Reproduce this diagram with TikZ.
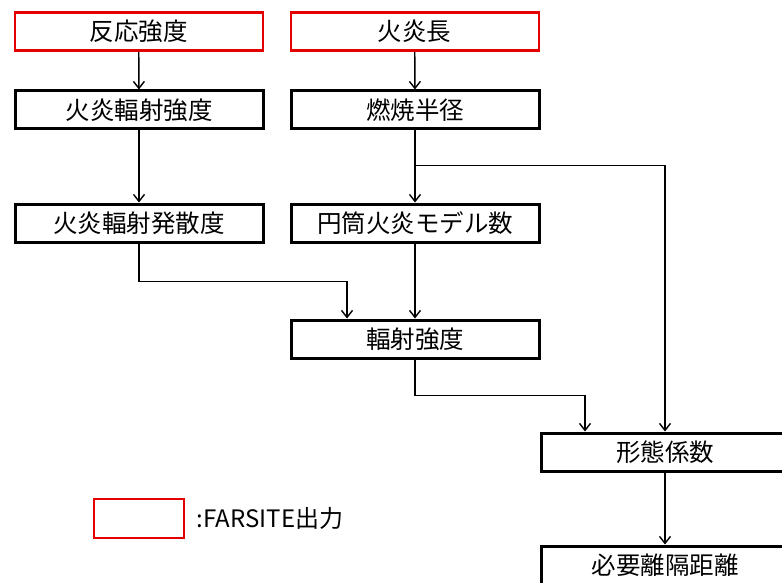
\documentclass[tikz,border=0pt]{standalone}
\usepackage{fontspec}
\setmainfont{Noto Sans CJK JP}
\usetikzlibrary{arrows.meta}

\begin{document}
\begin{tikzpicture}[x=1pt, y=-1pt,
  every node/.style={draw, line width=3pt, minimum width=248pt, minimum height=38pt, anchor=north west, inner sep=0pt, font=\fontsize{24.5}{27}\selectfont},
  farsite/.style={draw=red!90!black, line width=2.4pt},
  flow/.style={line width=1.4pt, -{Straight Barb[length=7pt, width=11pt]}}]

\useasboundingbox (0,0) rectangle (782,583);

% Inputs from FARSITE
\node[farsite] (react) at (13.5,11.5) {反応強度};
\node[farsite] (flen) at (289.5,11.5) {火炎長};

% Second row
\node (fri) at (13.5,89.5) {火炎輻射強度};
\node (brad) at (289.5,89.5) {燃焼半径};

% Third row
\node (fre) at (13.5,202.5) {火炎輻射発散度};
\node (cyl) at (289.5,202.5) {円筒火炎モデル数};

% Lower chain
\node (rad) at (289.5,318.5) {輻射強度};
\node (view) at (539.5,431.5) {形態係数};
\node (dist) at (539.5,544.5) {必要離隔距離};

% Legend
\node[farsite, minimum width=90pt, minimum height=39pt] (legend) at (93,498) {};
\node[draw=none, minimum width=0pt, anchor=west, font=\fontsize{24}{26}\selectfont] (legendtxt) at ([xshift=10pt]legend.east) {:FARSITE出力};

% Connectors
\draw[flow] (react) -- (fri);
\draw[flow] (flen) -- (brad);
\draw[flow] (fri) -- (fre);
\draw[flow] (brad) -- (cyl);
\draw[flow] (cyl) -- (rad);
\draw[flow] (fre.south) -- ++(0,38) -| ([xshift=-68pt]rad.north);
\draw[flow] (brad.south) ++(0,35) coordinate (split) -| (view.north);
\draw[line width=1.4pt] (brad.south) -- (split);
\draw[flow] (rad.south) -- ++(0,36) -| ([xshift=-80pt]view.north);
\draw[flow] (view) -- (dist);

\end{tikzpicture}
\end{document}
